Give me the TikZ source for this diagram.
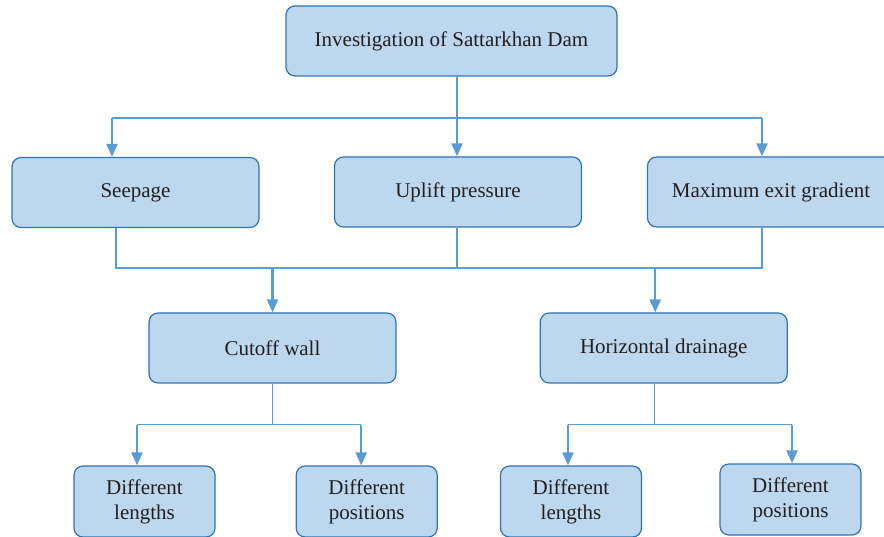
\documentclass[tikz,border=0pt]{standalone}
\usepackage{fontspec}
\setmainfont{Liberation Serif}
\usepackage{tikz}
\usetikzlibrary{arrows.meta,positioning}

\definecolor{boxfill}{HTML}{BDD7EE}
\definecolor{boxline}{HTML}{2E75B6}
\definecolor{linkblue}{HTML}{5B9BD5}
\definecolor{textgray}{HTML}{231F20}

\begin{document}
\begin{tikzpicture}[x=1pt,y=1pt,
  box/.style={draw=boxline, fill=boxfill, line width=1.2pt, rounded corners=9pt,
              minimum width=247pt, minimum height=70pt, text=textgray,
              font=\fontsize{21}{25}\selectfont},
  leaf/.style={box, minimum width=141pt, minimum height=71pt, align=center},
  link/.style={draw=linkblue, line width=1.4pt},
  arrow/.style={link, line width=2.2pt, -{Triangle[length=13pt,width=11pt]}}]

\useasboundingbox (0,0) rectangle (884,-537);

\node[box, minimum width=331pt] (top) at (451.5,-41) {Investigation of Sattarkhan Dam};

\node[box] (seep)     at (135.5,-192.5) {Seepage};
\node[box] (uplift)   at (458,-192)     {Uplift pressure};
\node[box] (gradient) at (771,-192)     {Maximum exit gradient};

\node[box] (cutoff) at (272.5,-348) {Cutoff wall};
\node[box] (drain)  [right=143pt of cutoff] {Horizontal drainage};

\node[leaf] (lenA) at (144.5,-501.5) {Different\\lengths};
\node[leaf] (posA) [right=80pt of lenA] {Different\\positions};
\node[leaf] (lenB) at (571,-501.5) {Different\\lengths};
\node[leaf] (posB) at (790.5,-499.5) {Different\\positions};

% first level
\coordinate (j1) at (457,-118);
\draw[link] (top.south -| j1) -- (j1);
\draw[link] ([xshift=-23.5pt]seep.north |- j1) -- ([xshift=-9pt]gradient.north |- j1);
\draw[arrow] ([xshift=-23.5pt]seep.north |- j1) -- ([xshift=-23.5pt]seep.north);
\draw[arrow] (j1) -- (j1 |- uplift.north);
\draw[arrow] ([xshift=-9pt]gradient.north |- j1) -- ([xshift=-9pt]gradient.north);

% second level
\coordinate (j2) at (457,-268);
\draw[link] ([xshift=-19.5pt]seep.south) |- (j2);
\draw[link] ([xshift=-9pt]gradient.south) |- (j2);
\draw[link] (uplift.south -| j2) -- (j2);
\draw[arrow] (cutoff.north |- j2) -- (cutoff.north);
\draw[arrow] ([xshift=-8.5pt]drain.north |- j2) -- ([xshift=-8.5pt]drain.north);

% third level
\coordinate (j3) at ([yshift=-41pt]cutoff.south);
\coordinate (j4) at ([xshift=-9.5pt,yshift=-41pt]drain.south);
\draw[link] (cutoff.south) -- (j3);
\draw[link] ([xshift=-9.5pt]drain.south) -- (j4);
\draw[link] ([xshift=-7.5pt]lenA.north |- j3) -- ([xshift=-5.5pt]posA.north |- j3);
\draw[link] ([xshift=-3pt]lenB.north |- j4) -- ([xshift=1.5pt]posB.north |- j4);
\draw[arrow] ([xshift=-7.5pt]lenA.north |- j3) -- ([xshift=-7.5pt]lenA.north);
\draw[arrow] ([xshift=-5.5pt]posA.north |- j3) -- ([xshift=-5.5pt]posA.north);
\draw[arrow] ([xshift=-3pt]lenB.north |- j4) -- ([xshift=-3pt]lenB.north);
\draw[arrow] ([xshift=1.5pt]posB.north |- j4) -- ([xshift=1.5pt]posB.north);

\end{tikzpicture}
\end{document}
